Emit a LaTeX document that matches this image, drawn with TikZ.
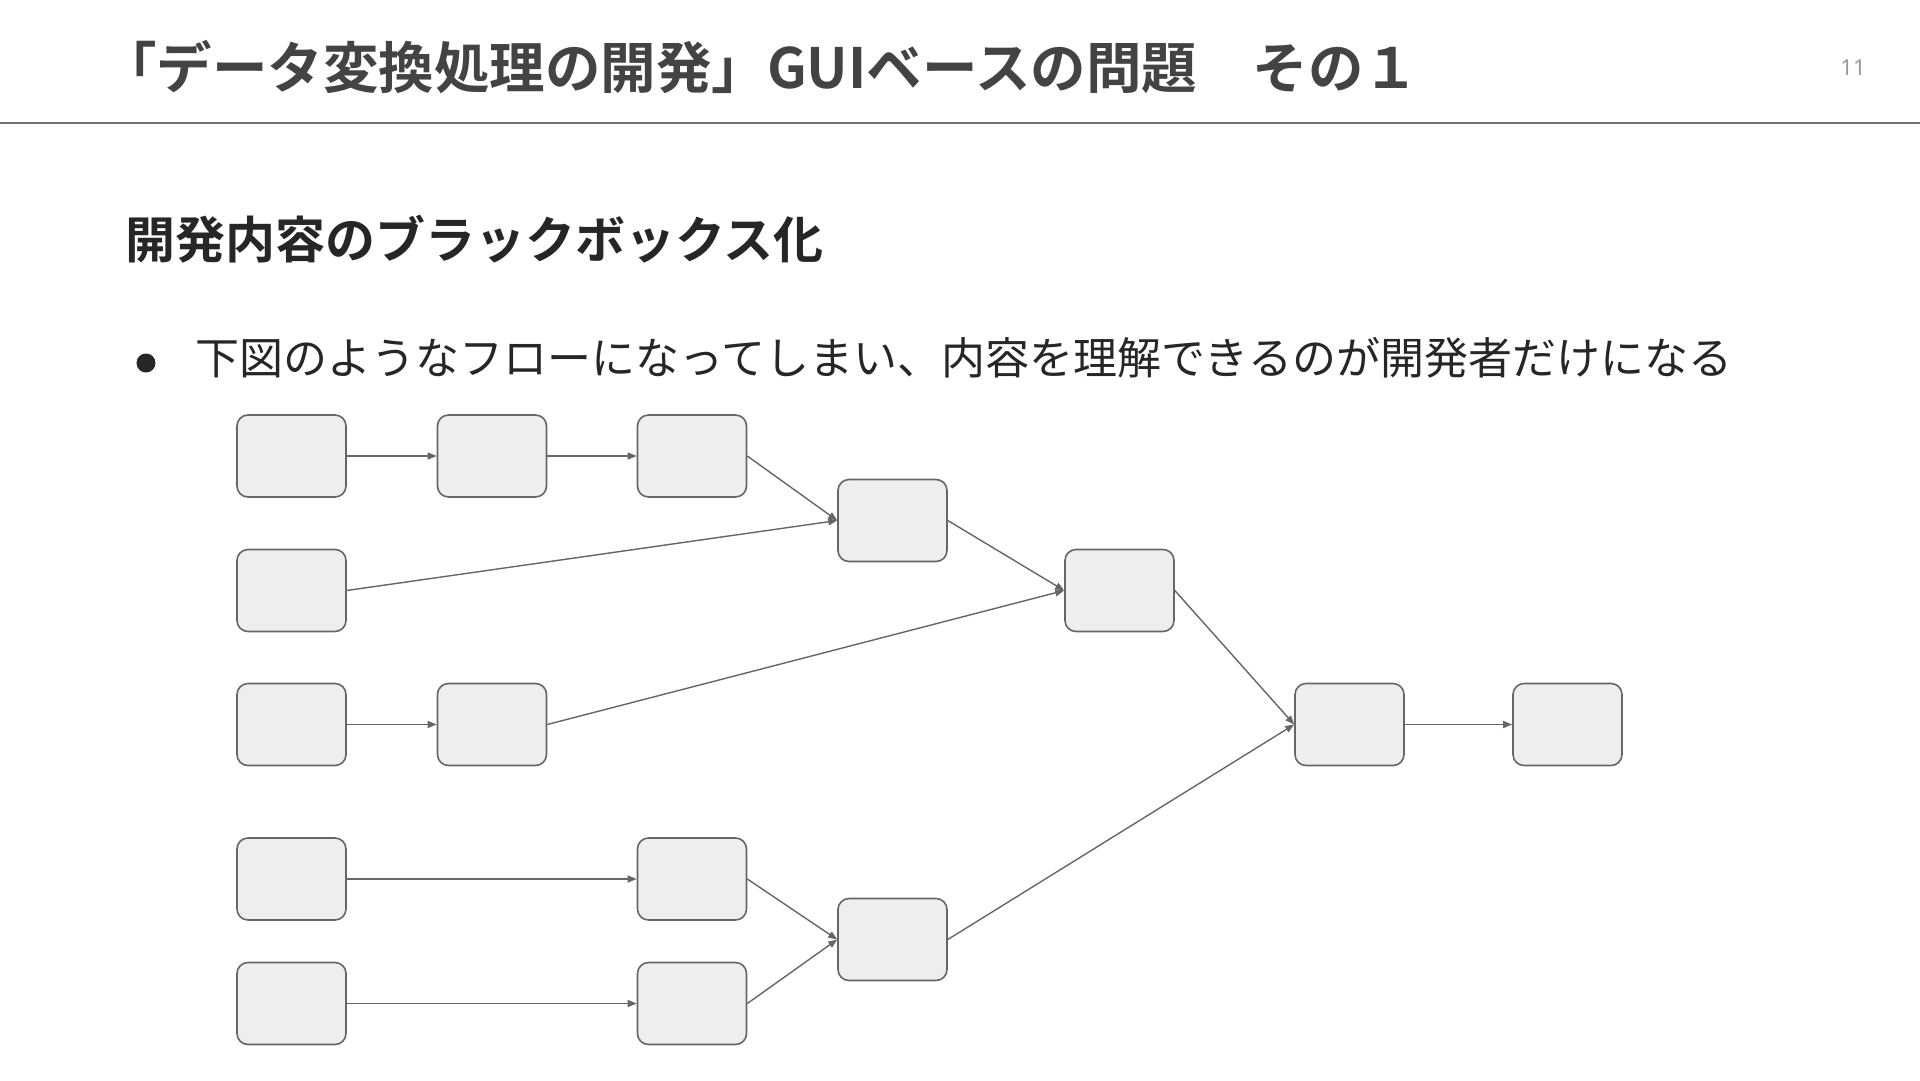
\documentclass[tikz,border=0pt]{standalone}
\usepackage{fontspec}
\newfontfamily\jp{Noto Sans CJK JP}
\newfontfamily\jpb{Noto Sans CJK JP Bold}
\newfontfamily\numfont{Noto Sans}
\usetikzlibrary{arrows.meta}
\definecolor{titlecol}{HTML}{434343}
\definecolor{bodycol}{HTML}{262626}
\definecolor{boxfill}{HTML}{EEEEEE}
\definecolor{boxline}{HTML}{666666}
\definecolor{rulecol}{HTML}{707070}
\definecolor{pagecol}{HTML}{999999}
\tikzset{
  blk/.style={draw=boxline, fill=boxfill, line width=1.6pt, rounded corners=11pt,
    minimum width=109pt, minimum height=82pt, inner sep=0pt},
  conn/.style={draw=boxline, line width=1.4pt, -{Triangle[length=9pt,width=7pt]}, shorten >=0pt},
  txt/.style={inner sep=0pt, anchor=base west}
}
\begin{document}
\begin{tikzpicture}[x=1pt,y=-1pt]
\useasboundingbox (0,0) rectangle (1920,1080);
\fill[white] (0,0) rectangle (1920,1080);
% header
\node[txt, text=titlecol, font={\jpb\fontsize{55.5}{55.5}\selectfont}] (title) at (101,88.5) {「データ変換処理の開発」GUIベースの問題　その１};
\node[txt, text=pagecol, anchor=base, font={\numfont\fontsize{22}{22}\selectfont}] (page) at (1853,75) {11};
\draw[rulecol, line width=1.8pt] (0,123) coordinate (rl) -- (1920,123) coordinate (rr);
% subtitle
\node[txt, text=bodycol, font={\jpb\fontsize{50}{50}\selectfont}] (sub) at (125,258) {開発内容のブラックボックス化};
% bullet
\node[txt, text=bodycol, font={\jp\fontsize{44}{44}\selectfont}] (bul) at (195,374) {下図のようなフローになってしまい、内容を理解できるのが開発者だけになる};
\fill[bodycol] (146,363) circle (9.5pt);
% boxes
\node[blk] (a1) at (291.5,456) {};
\node[blk] (a2) at (492,456) {};
\node[blk] (a3) at (692,456) {};
\node[blk] (b1) at (291.5,590.5) {};
\node[blk] (c1) at (291.5,724.5) {};
\node[blk] (c2) at (492,724.5) {};
\node[blk] (d4) at (892.5,520.5) {};
\node[blk] (m5) at (1119.5,590.5) {};
\node[blk] (m6) at (1349.5,724.5) {};
\node[blk] (m7) at (1567.5,724.5) {};
\node[blk] (e1) at (291.5,879) {};
\node[blk] (e3) at (692,879) {};
\node[blk] (f1) at (291.5,1003.5) {};
\node[blk] (f3) at (692,1003.5) {};
\node[blk] (l4) at (892.5,939.5) {};
% connectors
\draw[conn] (a1.east) -- (a2.west);
\draw[conn] (a2.east) -- (a3.west);
\draw[conn] (a3.east) -- (d4.west);
\draw[conn] (b1.east) -- (d4.west);
\draw[conn] (c1.east) -- (c2.west);
\draw[conn] (d4.east) -- (m5.west);
\draw[conn] (c2.east) -- (m5.west);
\draw[conn] (m5.east) -- (m6.west);
\draw[conn] (l4.east) -- (m6.west);
\draw[conn] (m6.east) -- (m7.west);
\draw[conn] (e1.east) -- (e3.west);
\draw[conn] (f1.east) -- (f3.west);
\draw[conn] (e3.east) -- (l4.west);
\draw[conn] (f3.east) -- (l4.west);
\end{tikzpicture}
\end{document}
